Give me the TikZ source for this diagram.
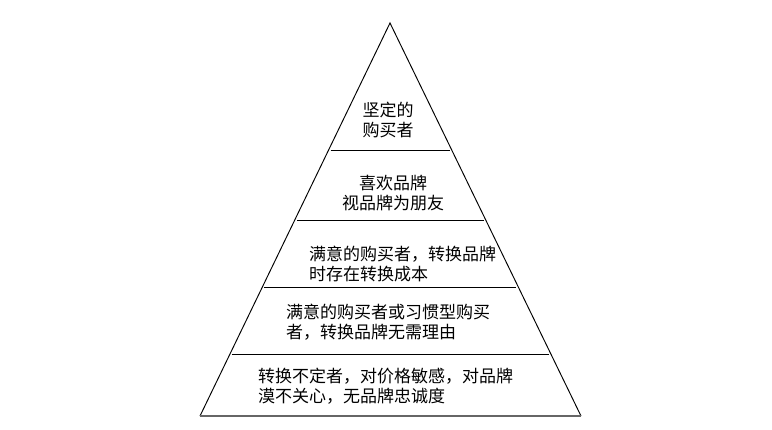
\documentclass[tikz,border=0pt]{standalone}
\usepackage{fontspec}
\setmainfont{Noto Sans CJK SC}
\usetikzlibrary{calc}
\begin{document}
\begin{tikzpicture}[x=1pt,y=-1pt,
  edge/.style={draw=black,line width=0.95pt},
  lvl/.style={inner sep=0pt,font=\fontsize{17}{20.5}\selectfont,align=left,anchor=west}]
\useasboundingbox (0,0) rectangle (772,429);
\coordinate (A) at (390,23);
\coordinate (L) at (200,416);
\coordinate (R) at (581,416);
\draw[edge,line join=miter] (L) -- (A) -- (R);
\draw[draw=black!60,line width=1.5pt] (L) -- (R);
\foreach \t/\n in {0.3232/a,0.5013/b,0.6718/c,0.8422/d}{
  \coordinate (l\n) at ($(A)!\t!(L)$);
  \coordinate (r\n) at ($(A)!\t!(R)$);
  \draw[edge] ($(l\n)+(2,0)$) -- ($(r\n)+(-2,0)$);
}
\node[lvl,align=center,anchor=center] (t1) at (388,120) {坚定的\\购买者};
\node[lvl,align=center,anchor=center] (t2) at (393,193) {喜欢品牌\\视品牌为朋友};
\node[lvl] (t3) at (309,264) {满意的购买者，转换品牌\\时存在转换成本};
\node[lvl] (t4) at (286,322) {满意的购买者或习惯型购买\\者，转换品牌无需理由};
\node[lvl] (t5) at (258,386) {转换不定者，对价格敏感，对品牌\\漠不关心，无品牌忠诚度};
\end{tikzpicture}
\end{document}
